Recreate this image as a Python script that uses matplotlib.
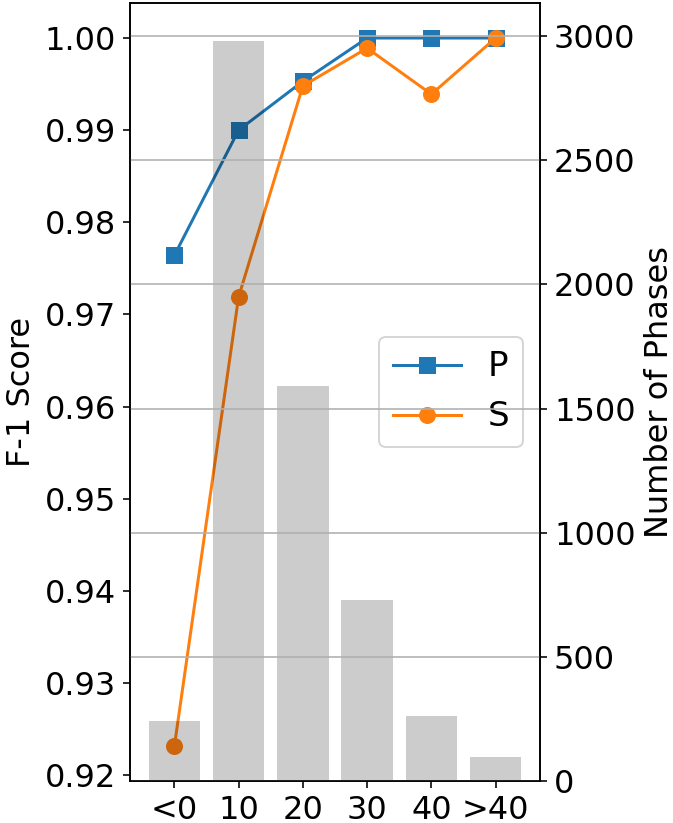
import matplotlib
matplotlib.use("Agg")
import matplotlib.pyplot as plt
import numpy as np

categories = ['<0', '10', '20', '30', '40', '>40']
f1_p = [0.9764, 0.9900, 0.9953, 1.0000, 1.0000, 1.0000]
f1_s = [0.9231, 0.9719, 0.9948, 0.9989, 0.9939, 1.0000]
n_phases = [241, 2981, 1589, 728, 261, 97]

plt.rcParams['font.size'] = 16

fig = plt.figure(figsize=(673/144, 823/144), dpi=144)
ax1 = fig.add_axes([130/673, 1-781/823, 410/673, 778/823])
x = np.arange(len(categories))

ax1.plot(x, f1_p, marker='s', color='C0', markersize=7.5, linewidth=1.5, label='P')
ax1.plot(x, f1_s, marker='o', color='C1', markersize=7.5, linewidth=1.5, label='S')
ax1.set_ylim(0.91935, 1.0038)
ax1.set_yticks([0.92, 0.93, 0.94, 0.95, 0.96, 0.97, 0.98, 0.99, 1.00])
ax1.set_ylabel('F-1 Score')
ax1.set_xticks(x)
ax1.set_xticklabels(categories)
ax1.legend(loc='center right', fontsize=17)

ax2 = ax1.twinx()
ax2.bar(x, n_phases, width=0.8, color='k', alpha=0.2)
ax2.set_ylim(0, 3133)
ax2.set_yticks([0, 500, 1000, 1500, 2000, 2500, 3000])
ax2.grid(axis='y')
ax2.set_ylabel('Number of Phases')

fig.savefig('out.png', dpi=144)
